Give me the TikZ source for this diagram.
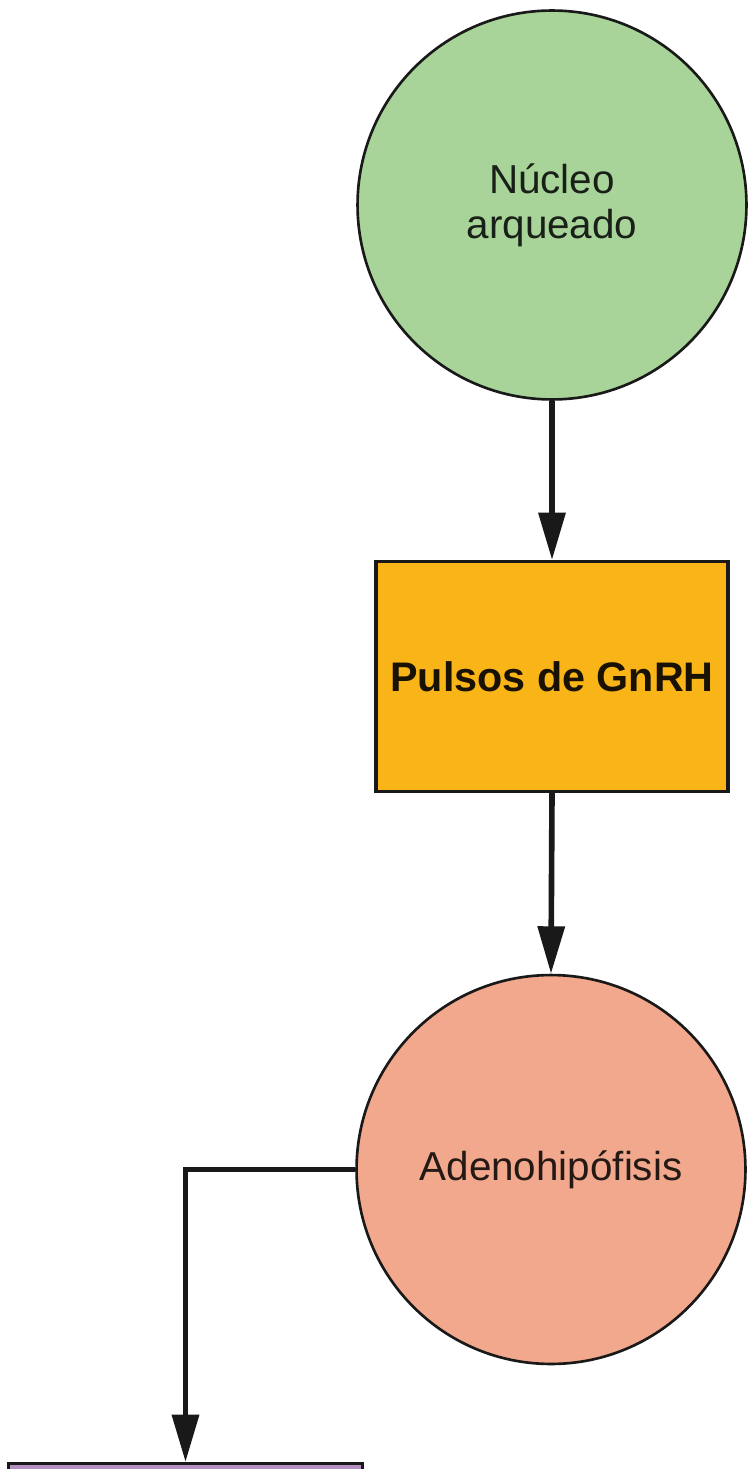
\documentclass[tikz,border=0pt]{standalone}
\usepackage{fontspec}
\setmainfont{Liberation Sans}
\usepackage{tikz}
\usetikzlibrary{positioning,arrows.meta,calc}
\usepackage{xcolor}
\definecolor{nucleo}{HTML}{A8D49A}
\definecolor{pulso}{HTML}{F9B418}
\definecolor{adeno}{HTML}{F2A88C}
\definecolor{diana}{HTML}{B48FC4}

\begin{document}
\begin{tikzpicture}[x=0.02cm, y=-0.02cm,
    circulo/.style={circle, draw=black!90, line width=1.5pt, minimum size=7.78cm, inner sep=0pt,
        align=center, font=\fontsize{23}{25.5}\selectfont},
    caja/.style={rectangle, draw=black!90, line width=1.8pt, inner sep=0pt,
        align=center, font=\fontsize{23.5}{25.5}\selectfont\bfseries},
    flecha/.style={line width=3.2pt, draw=black!90, -{Triangle[length=27pt, width=15pt]}}]
    % Marco
    \clip (0, 0) rectangle (751, 1469);
    \fill[white] (0, 0) rectangle (751, 1469);

    % Nucleo arqueado
    \node[circulo, fill=nucleo, text=nucleo!15!black] (nucleo) at (552, 205) {Núcleo\\arqueado};

    % Pulsos de GnRH
    \node[caja, fill=pulso, text=pulso!10!black, minimum width=7.04cm, minimum height=4.6cm]
        (pulsos) at (552, 676.5) {Pulsos de GnRH};

    % Adenohipofisis
    \node[circulo, fill=adeno, text=adeno!15!black] (adeno) at (551, 1169.5) {Adenohipófisis};

    % Caja inferior (cortada)
    \node[caja, fill=diana, minimum width=7.08cm, minimum height=3cm, anchor=north] (diana) at (185.5, 1462) {};

    % Flechas
    \draw[flecha] (nucleo.south) -- (pulsos.north);
    \draw[flecha] (pulsos.south) -- (adeno.north);
    \draw[flecha] (adeno.west) -- (adeno.west -| diana.north) -- (diana.north);
\end{tikzpicture}
\end{document}
